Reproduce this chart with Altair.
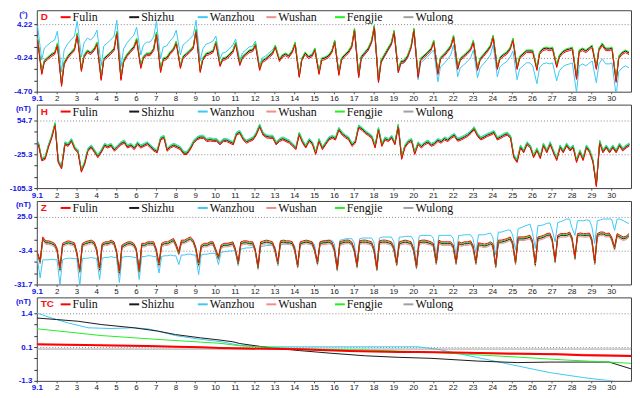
import json
import altair as alt
import pandas as pd

STATIONS = ["Fulin", "Shizhu", "Wanzhou", "Wushan", "Fengjie", "Wulong"]
COLORS = ["#ff0000", "#1a1a1a", "#3cc8f5", "#f08c8c", "#22ee22", "#a0a0a0"]
DRAW_ORDER = ["Wanzhou", "Wulong", "Wushan", "Shizhu", "Fengjie", "Fulin"]
DAY_LABELS = ["9.1", "2", "3", "4", "5", "6", "7", "8", "9", "10", "11", "12", "13", "14", "15",
              "16", "17", "18", "19", "20", "21", "22", "23", "24", "25", "26", "27", "28", "29", "30"]

# ---------------- D (declination, degrees) ----------------
D_FRAC = [0.04, 0.25, 0.38, 0.55, 0.72, 0.9]
D_MAIN = [
    [2.25, -2.21, -0.63, -0.24, 0.15, 0.42],
    [1.60, -3.78, -0.90, -0.11, 0.42, 0.94],
    [2.91, -1.81, 0.02, 0.68, 0.42, 0.94],
    [1.73, -2.99, -0.37, 0.02, 0.42, 0.94],
    [3.17, -2.99, -0.63, 0.15, 0.68, 1.20],
    [2.25, -1.42, -0.11, 0.28, 0.28, 0.94],
    [3.04, -1.95, -0.37, -0.24, 0.42, 0.94],
    [1.86, -1.42, -0.11, 0.28, 0.68, 1.20],
    [3.43, -1.95, -0.37, 0.28, 0.42, 0.68],
    [1.86, -1.16, -0.37, -0.24, 0.15, 0.68],
    [1.73, -1.03, -0.11, 0.28, 0.68, 0.81],
    [1.60, -1.68, -0.63, -0.37, 0.02, 0.42],
    [1.33, -0.50, 0.02, 0.28, 0.02, 0.68],
    [1.73, -2.60, -0.37, 0.42, -0.11, 0.15],
    [0.94, -2.21, -0.37, -0.24, 0.02, 0.68],
    [1.99, -2.34, -0.37, 0.15, 0.55, 1.33],
    [3.56, -2.60, -0.11, 0.42, 0.94, 1.99],
    [3.96, -3.26, -0.63, 0.15, 0.94, 1.73],
    [3.30, -1.95, -0.76, -0.63, 0.02, 1.33],
    [3.56, -2.60, -0.37, 0.02, 0.42, 0.94],
    [1.99, -2.21, -0.24, 0.15, 0.68, 1.33],
    [2.65, -1.55, -0.37, 0.02, 0.42, 0.94],
    [1.99, -1.68, -0.37, 0.15, 0.68, 1.33],
    [2.65, -1.55, -0.24, 0.15, 0.42, 1.07],
    [2.25, -1.55, -0.11, 0.28, 0.68, 0.68],
    [0.68, -1.68, 0.42, 0.94, 1.07, 0.94],
    [1.07, -1.29, 0.02, 0.55, 0.81, 0.94],
    [1.07, -2.86, 0.68, 0.94, 0.68, 1.07],
    [1.33, -1.55, 0.94, 1.60, 0.94, 0.94],
    [1.07, -3.26, -0.11, 0.42, 0.68, 0.42],
]
D_WANZHOU_SHIFT = [1.7, 1.7, 1.7, 1.7, 1.57, 1.57, 1.57, 1.57, 1.31, 0.79,
                   0.52, 0.39, 0.0, 0.0, 0.0, 0.0, -0.26, -0.26, -0.26, -0.52,
                   -1.18, -1.18, -1.18, -1.18, -1.57, -1.97, -1.97, -1.97, -1.97, -1.97]
D_SHIFT = {"Fulin": -0.22, "Shizhu": 0.0, "Wushan": -0.05, "Fengjie": 0.14, "Wulong": 0.05}

# ---------------- H (nT) ----------------
H_FRAC = [0.08, 0.25, 0.42, 0.58, 0.75, 0.92]
H_MAIN = [
    [0.5, -37.4, -33.8, -7.0, 15.8, 46.3],
    [-41.3, -56.6, 0.5, -3.1, 8.3, -10.9],
    [-18.4, -64.2, -45.2, -14.6, -7.0, -18.4],
    [-29.9, -18.4, -3.1, -7.0, -3.1, -14.6],
    [-7.0, 0.5, 4.4, -7.0, -3.1, -10.9],
    [0.5, -7.0, -3.1, 0.5, -7.0, -14.6],
    [-18.4, 12.0, 15.8, -14.6, -7.0, -3.1],
    [-7.0, -10.9, -22.3, -22.3, -10.9, 4.4],
    [12.0, 15.8, 15.8, 8.3, 9.7, 8.3],
    [8.3, 0.5, 8.3, 8.3, 4.4, 0.5],
    [23.4, 27.3, 12.0, 4.4, 8.3, 12.0],
    [23.4, 42.6, 23.4, 17.4, 15.8, 15.8],
    [0.5, 8.3, 12.0, 8.3, 4.4, -3.1],
    [-10.9, 23.4, 4.4, -7.0, 8.3, 0.5],
    [-22.3, 8.3, -10.9, 0.5, 12.0, 15.8],
    [12.0, 34.8, 23.4, 17.4, 12.0, -3.1],
    [4.4, 40.3, 34.8, 27.3, 22.0, 15.8],
    [-7.0, 34.8, -3.1, 12.0, 8.3, 15.8],
    [0.5, 42.6, -33.8, -7.0, 4.4, 8.3],
    [-22.3, 0.5, -7.0, 0.5, 4.4, -3.1],
    [0.5, 8.3, 4.4, 12.0, 8.3, 15.8],
    [20.4, 9.0, 12.0, 15.8, 20.4, 27.3],
    [36.4, 20.4, 12.0, 15.8, 20.4, 23.4],
    [27.3, 12.0, 15.8, 20.4, 23.4, 15.8],
    [-29.9, -41.3, -7.0, -18.4, 0.5, -7.0],
    [-29.9, -13.9, -32.2, -2.4, -18.4, 0.5],
    [-18.4, -36.7, -7.0, -18.4, -2.4, -13.9],
    [-7.0, -41.3, -18.4, -36.7, -7.0, -18.4],
    [-41.3, -98.5, 4.4, -18.4, -7.0, -18.4],
    [-7.0, -18.4, -2.4, -13.9, -7.0, -2.4],
]
H_SHIFT = {"Fulin": -3.5, "Shizhu": 0.0, "Wanzhou": 4.0, "Wushan": -1.0, "Fengjie": 2.0, "Wulong": 0.5}

# ---------------- Z (nT) ----------------
Z_FRAC = [0.02, 0.17, 0.3, 0.45, 0.6, 0.75, 0.9]
Z_MAIN = [
    [-5.6, -13.0, 6.7, 3.4, 3.4, 2.6, 1.3],
    [-2.8, -19.3, 1.3, 2.6, 3.4, 2.6, 1.8],
    [-5.6, -20.7, 1.3, 2.6, 3.4, 4.0, 2.6],
    [-2.8, -19.3, 1.3, 2.6, 2.6, 4.0, 2.6],
    [-4.2, -22.1, -0.1, 1.3, 2.6, 2.6, 1.3],
    [-2.8, -20.7, 1.3, 1.3, 2.6, 2.6, 2.6],
    [-2.8, -15.2, 1.3, 2.6, 2.6, 4.0, 5.4],
    [1.3, -5.6, 4.0, 4.0, 5.4, 6.7, 4.0],
    [-1.5, -15.2, -0.1, 1.3, 1.3, 2.6, 2.6],
    [-2.8, -9.7, -0.1, 1.3, 1.3, 1.8, 2.6],
    [-2.8, -14.1, 2.6, 3.4, 3.4, 2.6, 2.6],
    [-2.8, -17.4, 2.6, 3.4, 4.0, 3.4, 2.6],
    [-2.8, -14.1, 3.4, 4.0, 3.4, 3.4, 2.6],
    [-2.8, -16.6, 2.6, 3.4, 4.0, 3.4, 2.6],
    [-2.8, -14.1, 2.6, 3.4, 3.4, 4.0, 2.6],
    [-2.8, -19.0, 2.6, 3.4, 4.0, 4.0, 2.6],
    [-2.8, -16.6, 3.4, 4.0, 4.0, 3.4, 2.6],
    [-2.8, -19.0, 3.4, 4.0, 4.0, 3.4, 2.6],
    [-1.5, -14.9, 2.6, 3.4, 4.0, 3.4, 2.6],
    [-2.8, -17.4, 3.4, 4.0, 4.0, 3.4, 2.6],
    [1.3, -13.8, 4.0, 2.6, 2.6, 2.6, 2.6],
    [-0.1, -13.8, 2.6, 1.8, 2.6, 2.6, 3.4],
    [-0.1, -13.8, 1.8, 1.3, 0.7, 1.3, 2.6],
    [1.3, -16.6, 4.0, 4.0, 4.6, 5.4, 6.7],
    [2.6, -13.8, 6.7, 6.7, 6.7, 7.3, 8.1],
    [4.0, -15.2, 6.7, 7.3, 8.1, 9.5, 10.0],
    [5.4, -12.4, 8.1, 9.5, 9.5, 9.5, 10.8],
    [6.7, -9.7, 9.5, 10.0, 9.5, 9.5, 10.0],
    [5.4, -13.8, 9.5, 10.8, 10.8, 9.5, 10.0],
    [6.7, -1.5, 9.5, 8.1, 6.7, 7.3, 9.5],
]
Z_WANZHOU = [
    [-9.7, -26.2, -11.0, -11.0, -11.0, -10.5, -11.0],
    [-11.0, -31.6, -11.0, -10.0, -9.7, -9.7, -10.0],
    [-10.0, -33.0, -10.0, -9.7, -9.7, -9.0, -9.7],
    [-9.7, -27.5, -9.7, -9.0, -9.0, -8.3, -9.0],
    [-9.0, -30.0, -9.0, -8.3, -8.3, -8.3, -9.0],
    [-9.0, -27.5, -8.3, -8.3, -7.6, -7.6, -8.3],
    [-8.3, -22.1, -8.3, -7.6, -7.6, -7.0, -7.6],
    [-7.6, -15.0, -7.0, -7.0, -6.3, -6.3, -7.0],
    [-7.0, -23.5, -7.0, -6.3, -6.3, -5.6, -5.6],
    [-5.6, -15.0, -4.9, -4.2, -4.2, -3.5, -3.5],
    [-3.5, -16.0, -2.0, -1.5, -1.0, -1.0, -0.5],
    [-1.5, -19.0, 0.0, 0.5, 1.0, 1.0, 1.3],
    [0.0, -16.0, 1.3, 2.0, 2.6, 2.6, 2.6],
    [1.0, -17.0, 2.6, 3.4, 4.0, 4.0, 4.0],
    [2.0, -15.0, 4.0, 4.6, 5.4, 5.4, 5.4],
    [2.6, -17.0, 5.4, 6.0, 6.7, 6.7, 6.7],
    [3.4, -14.0, 6.7, 7.3, 7.3, 7.3, 7.3],
    [4.0, -16.0, 7.3, 8.1, 8.1, 8.1, 8.1],
    [4.6, -12.0, 8.1, 8.1, 8.7, 8.7, 8.7],
    [5.4, -14.0, 8.7, 9.5, 9.5, 9.5, 9.5],
    [7.0, -6.9, 9.5, 9.5, 9.5, 9.5, 9.5],
    [7.0, -6.9, 9.5, 9.5, 10.0, 10.0, 10.0],
    [7.0, -5.6, 10.0, 10.0, 10.0, 10.8, 11.5],
    [8.0, -6.9, 12.2, 12.2, 13.0, 13.9, 14.0],
    [10.0, -2.8, 15.0, 16.0, 17.0, 18.0, 19.0],
    [12.0, -1.5, 17.7, 17.7, 18.5, 19.5, 20.0],
    [14.0, 4.0, 20.4, 21.0, 22.0, 23.2, 23.0],
    [16.0, 9.5, 21.8, 21.8, 21.8, 22.5, 22.0],
    [17.0, 2.6, 21.8, 22.5, 23.2, 23.2, 23.2],
    [23.2, 13.6, 23.2, 23.2, 22.0, 20.5, 19.5],
]
Z_SHIFT = {"Fulin": 1.5, "Shizhu": 0.0, "Wushan": -1.5, "Fengjie": 0.7, "Wulong": -0.5}

# ---------------- TC (nT) : (day, value) points ----------------
TC_SERIES = {
    "Wulong": ([0, 30], [-0.03, -0.03]),
    "Wushan": ([0, 5, 10, 15, 20, 25, 30], [0.14, 0.09, 0.02, -0.08, -0.15, -0.2, -0.28]),
    "Wanzhou": ([0, 0.75, 1.6, 2.6, 3.75, 4.9, 5.6, 6.1, 7, 8.25, 9.25, 10.25, 11.6, 19.25,
                 20.25, 22.25, 24.25, 25.9, 27.6, 29, 30],
                [1.41, 1.21, 1.01, 0.82, 0.79, 0.82, 0.78, 0.69, 0.51, 0.36, 0.27, 0.12, 0.06, 0.06,
                 -0.04, -0.37, -0.70, -0.97, -1.17, -1.30, -1.42]),
    "Fengjie": ([0, 1.6, 3.25, 4.9, 6.6, 8.25, 9.25, 10.25, 13.25, 16.6, 19.25, 21.75, 24.25, 26.75, 28.9, 30],
                [0.78, 0.65, 0.51, 0.42, 0.33, 0.25, 0.2, 0.1, -0.02, -0.07, -0.13, -0.24, -0.35, -0.47, -0.55, -0.6]),
    "Shizhu": ([0, 1, 2.1, 3.25, 4.9, 6.1, 7, 8.25, 9.25, 9.9, 10.25, 11.6, 13.25, 14.9, 16.6, 18.25,
                19.9, 22.25, 24.25, 25.9, 28.9, 29.1, 30],
               [1.21, 1.15, 1.08, 0.95, 0.82, 0.69, 0.55, 0.42, 0.33, 0.26, 0.19, 0.04, -0.09, -0.2, -0.3, -0.36,
                -0.4, -0.51, -0.57, -0.55, -0.55, -0.6, -0.82]),
    "Fulin": ([0, 3.25, 5.6, 7.1, 8.25, 9.25, 13.25, 15.75, 18.25, 19.25, 21.75, 24.25, 26.25, 27.6, 30],
              [0.16, 0.12, 0.09, 0.06, 0.04, 0.01, -0.04, -0.11, -0.15, -0.15, -0.18, -0.22, -0.24, -0.28, -0.31]),
}

PANELS = [
    dict(name="D", unit="(°)", lo=-4.70, mid=-0.24, hi=4.22, labels=["-4.70", "-0.24", "4.22"], height=82, red_w=1.0),
    dict(name="H", unit="(nT)", lo=-105.3, mid=-25.3, hi=54.7, labels=["-105.3", "-25.3", "54.7"], height=84, red_w=1.0),
    dict(name="Z", unit="(nT)", lo=-31.7, mid=-3.35, hi=25.0, labels=["-31.7", "-3.4", "25.0"], height=84, red_w=1.0),
    dict(name="TC", unit="(nT)", lo=-1.3, mid=0.05, hi=1.4, labels=["-1.3", "0.1", "1.4"], height=84, red_w=2.0),
]


def daily_frame(frac, main, shifts, special=None):
    rows = []
    for st in DRAW_ORDER:
        for d, day_vals in enumerate(main):
            for k, f in enumerate(frac):
                if special is not None and st in special:
                    v = special[st](d, k, day_vals[k])
                else:
                    v = day_vals[k] + shifts.get(st, 0.0)
                rows.append({"station": st, "t": d + f, "value": v})
    return pd.DataFrame(rows)


df_d = daily_frame(D_FRAC, D_MAIN, D_SHIFT,
                   {"Wanzhou": lambda d, k, v: v + D_WANZHOU_SHIFT[d]})
df_h = daily_frame(H_FRAC, H_MAIN, H_SHIFT)
df_z = daily_frame(Z_FRAC, Z_MAIN, Z_SHIFT,
                   {"Wanzhou": lambda d, k, v: Z_WANZHOU[d][k]})
tc_rows = []
for st in DRAW_ORDER:
    ts, vs = TC_SERIES[st]
    for t, v in zip(ts, vs):
        tc_rows.append({"station": st, "t": t, "value": v})
df_tc = pd.DataFrame(tc_rows)

BLUE = "#1414e6"


def panel(df, cfg):
    lo, hi, mid, h = cfg["lo"], cfg["hi"], cfg["mid"], cfg["height"]
    top = lo + (hi - lo) * h / 68.0
    ticks = [lo + (hi - lo) * k / 6.0 for k in range(7)]
    ticks[0], ticks[3], ticks[6] = lo, mid, hi
    main_vals = json.dumps([lo, mid, hi])
    labs = json.dumps(cfg["labels"])
    label_expr = f"indexof({main_vals}, datum.value) >= 0 ? {labs}[indexof({main_vals}, datum.value)] : ''"
    grid_test = f"datum.value == {mid} || datum.value == {hi}"

    x = alt.X("t:Q",
              scale=alt.Scale(domain=[0, 30], nice=False, zero=False),
              axis=alt.Axis(values=list(range(30)), title=None, grid=False, domain=False,
                            labelExpr=f"{json.dumps(DAY_LABELS)}[datum.value]",
                            labelColor={"condition": {"test": "datum.value == 0", "value": BLUE}, "value": "#222222"},
                            labelFontWeight={"condition": {"test": "datum.value == 0", "value": "bold"}, "value": "normal"},
                            labelFont="Liberation Sans", labelFontSize=8, labelPadding=1,
                            tickSize=2, tickColor="#555555", labelFlush=False, labelOverlap=False))
    y = alt.Y("value:Q",
              scale=alt.Scale(domain=[lo, top], nice=False, zero=False),
              axis=alt.Axis(values=ticks, labelExpr=label_expr, title=cfg["unit"],
                            grid=True, gridDash=[1, 2], gridColor="#888888",
                            gridOpacity={"condition": {"test": grid_test, "value": 1}, "value": 0},
                            domain=False, tickSize=3, tickColor="#333333", labelPadding=2,
                            labelColor=BLUE, labelFont="Liberation Sans", labelFontSize=8,
                            labelFontWeight="bold", labelOverlap=False,
                            titleAngle=0, titleX=-14, titleY=4, titleAlign="center", titleBaseline="middle",
                            titleColor=BLUE, titleFont="Liberation Sans", titleFontSize=8,
                            titleFontWeight="bold"))
    color = alt.Color("station:N",
                      scale=alt.Scale(domain=STATIONS, range=COLORS),
                      legend=alt.Legend(orient="none", legendX=23, legendY=1, direction="horizontal",
                                        columns=6, gridAlign="all", columnPadding=7,
                                        symbolType="stroke", symbolSize=100, symbolStrokeWidth=2,
                                        labelFont="Liberation Serif", labelFontSize=12,
                                        labelColor="#111111", labelOffset=1, title=None,
                                        padding=0, labelLimit=0))
    lines = alt.Chart(df).mark_line(clip=True, interpolate="linear").encode(
        x=x, y=y, color=color, detail="station:N",
        strokeWidth=alt.condition("datum.station == 'Fulin'", alt.value(cfg["red_w"]), alt.value(1)),
    )
    lab = alt.Chart(pd.DataFrame({"lab": [cfg["name"]]})).mark_text(
        align="left", baseline="middle", color="#ff1010", fontWeight="bold", fontSize=10,
        font="Liberation Sans").encode(text="lab:N", x=alt.value(4), y=alt.value(7))
    return alt.layer(lines, lab).properties(width=598, height=h)


charts = [panel(df, cfg) for df, cfg in zip([df_d, df_h, df_z, df_tc], PANELS)]

chart = alt.vconcat(*charts, spacing=13, bounds="flush").resolve_scale(
    color="independent", y="independent"
).resolve_legend(color="independent").configure_view(
    stroke="#444444", strokeWidth=1
).properties(padding=0, background="white")

chart.save("out.html", embed_options={"renderer": "svg", "actions": False})
